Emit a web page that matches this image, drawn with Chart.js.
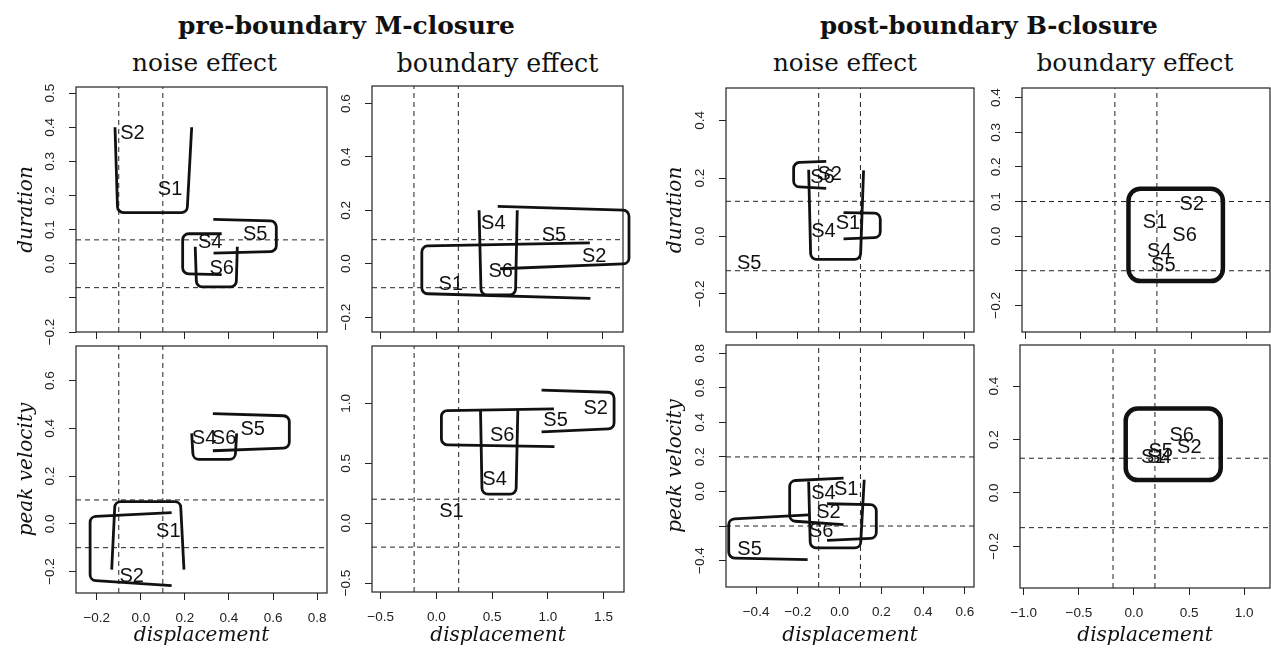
<!DOCTYPE html>
<html>
<head>
<meta charset="utf-8">
<title>closure effects</title>
<script src="https://cdn.jsdelivr.net/npm/chart.js@4.4.1/dist/chart.umd.min.js"></script>
<style>
  html, body { margin: 0; padding: 0; background: #fff; }
  #page { position: relative; width: 1271px; height: 653px; overflow: hidden; }
  #page canvas { position: absolute; }
  .ttl { position: absolute; white-space: nowrap; line-height: 1; color: #111;
         font-family: 'DejaVu Serif', serif; }
  .ttl.b { font-weight: bold; }
</style>
</head>
<body>
<div id="page">
  <div class="ttl b" id="ttlPre">pre-boundary M-closure</div>
  <div class="ttl b" id="ttlPost">post-boundary B-closure</div>
  <div class="ttl" id="subPreNoise">noise effect</div>
  <div class="ttl" id="subPreBnd">boundary effect</div>
  <div class="ttl" id="subPostNoise">noise effect</div>
  <div class="ttl" id="subPostBnd">boundary effect</div>
  <canvas id="c3"></canvas><canvas id="c4"></canvas>
  <canvas id="c7"></canvas><canvas id="c8"></canvas>
  <canvas id="c1"></canvas><canvas id="c2"></canvas>
  <canvas id="c5"></canvas><canvas id="c6"></canvas>
</div>
<script>
// ---------------- x axes (shared by the two rows) ----------------
const preNoiseXTicks  = [-0.2, 0, 0.2, 0.4, 0.6, 0.8];
const preNoiseXLabels = ['−0.2', '0.0', '0.2', '0.4', '0.6', '0.8'];
const preBndXTicks    = [-0.5, 0, 0.5, 1.0, 1.5];
const preBndXLabels   = ['−0.5', '0.0', '0.5', '1.0', '1.5'];
const postNoiseXTicks  = [-0.4, -0.2, 0, 0.2, 0.4, 0.6];
const postNoiseXLabels = ['−0.4', '−0.2', '0.0', '0.2', '0.4', '0.6'];
const postBndXTicks    = [-1.0, -0.5, 0, 0.5, 1.0];
const postBndXLabels   = ['−1.0', '−0.5', '0.0', '0.5', '1.0'];

// ---------------- pre-boundary M-closure / noise / duration ----------------
const p1XRange = [-0.294, 0.845];
const p1YRange = [-0.2, 0.518];
const p1YTicks = [-0.2, -0.1, 0, 0.1, 0.2, 0.3, 0.4, 0.5];
const p1YLabels = ['−0.2', '', '0.0', '0.1', '0.2', '0.3', '0.4', '0.5'];
const p1VRef = [-0.1, 0.1];
const p1HRef = [-0.07, 0.07];
const p1Names = ['S1', 'S2', 'S4', 'S5', 'S6'];
const p1NameX = [0.133, -0.038, 0.315, 0.519, 0.367];
const p1NameY = [0.217, 0.383, 0.061, 0.087, -0.013];
const p1Brackets = [
  [[-0.117, 0.40], [-0.105, 0.15], [0.21, 0.15], [0.231, 0.40]],
  [[0.367, 0.088], [0.19, 0.088], [0.19, -0.029], [0.367, -0.032]],
  [[0.247, 0.05], [0.253, -0.068], [0.433, -0.068], [0.438, 0.05]],
  [[0.329, 0.13], [0.615, 0.125], [0.615, 0.036], [0.33, 0.031]]
];

// ---------------- pre-boundary M-closure / boundary / duration ----------------
const p2XRange = [-0.578, 1.684];
const p2YRange = [-0.256, 0.666];
const p2YTicks = [-0.2, 0, 0.2, 0.4, 0.6];
const p2YLabels = ['−0.2', '0.0', '0.2', '0.4', '0.6'];
const p2VRef = [-0.2, 0.2];
const p2HRef = [-0.09, 0.09];
const p2Names = ['S1', 'S4', 'S6', 'S5', 'S2'];
const p2NameX = [0.132, 0.515, 0.582, 1.061, 1.424];
const p2NameY = [-0.078, 0.15, -0.028, 0.106, 0.027];
const p2Brackets = [
  [[1.385, 0.078], [-0.129, 0.066], [-0.129, -0.112], [1.39, -0.13]],
  [[0.387, 0.2], [0.405, -0.117], [0.715, -0.117], [0.731, 0.2]],
  [[0.555, 0.215], [1.738, 0.2], [1.738, 0.0], [0.576, -0.019]]
];

// ---------------- pre-boundary M-closure / noise / peak velocity ----------------
const p3XRange = [-0.294, 0.845];
const p3YRange = [-0.29, 0.745];
const p3YTicks = [-0.2, 0, 0.2, 0.4, 0.6];
const p3YLabels = ['−0.2', '0.0', '0.2', '0.4', '0.6'];
const p3VRef = [-0.1, 0.1];
const p3HRef = [-0.1, 0.1];
const p3Names = ['S5', 'S4', 'S6', 'S1', 'S2'];
const p3NameX = [0.508, 0.287, 0.378, 0.125, -0.041];
const p3NameY = [0.395, 0.358, 0.358, -0.032, -0.22];
const p3Brackets = [
  [[0.327, 0.462], [0.674, 0.452], [0.674, 0.318], [0.327, 0.306]],
  [[0.231, 0.379], [0.238, 0.27], [0.428, 0.27], [0.435, 0.379]],
  [[-0.132, -0.192], [-0.117, 0.093], [0.18, 0.093], [0.196, -0.192]],
  [[0.14, 0.047], [-0.23, 0.03], [-0.23, -0.237], [0.14, -0.259]]
];

// ---------------- pre-boundary M-closure / boundary / peak velocity ----------------
const p4XRange = [-0.578, 1.684];
const p4YRange = [-0.575, 1.48];
const p4YTicks = [-0.5, 0, 0.5, 1.0];
const p4YLabels = ['−0.5', '0.0', '0.5', '1.0'];
const p4VRef = [-0.2, 0.2];
const p4HRef = [-0.2, 0.2];
const p4Names = ['S2', 'S5', 'S6', 'S4', 'S1'];
const p4NameX = [1.43, 1.07, 0.59, 0.522, 0.135];
const p4NameY = [0.958, 0.86, 0.736, 0.367, 0.097];
const p4Brackets = [
  [[0.944, 1.111], [1.595, 1.092], [1.595, 0.79], [0.944, 0.763]],
  [[1.055, 0.955], [0.045, 0.94], [0.045, 0.655], [1.06, 0.64]],
  [[0.396, 0.944], [0.41, 0.242], [0.715, 0.242], [0.731, 0.944]]
];

// ---------------- post-boundary B-closure / noise / duration ----------------
const p5XRange = [-0.544, 0.644];
const p5YRange = [-0.332, 0.512];
const p5YTicks = [-0.2, 0, 0.2, 0.4];
const p5YLabels = ['−0.2', '0.0', '0.2', '0.4'];
const p5VRef = [-0.1, 0.1];
const p5HRef = [-0.12, 0.12];
const p5Names = ['S6', 'S2', 'S4', 'S1', 'S5'];
const p5NameX = [-0.082, -0.047, -0.077, 0.04, -0.433];
const p5NameY = [0.203, 0.214, 0.015, 0.042, -0.095];
const p5Brackets = [
  [[-0.064, 0.258], [-0.22, 0.254], [-0.22, 0.171], [-0.064, 0.165]],
  [[-0.148, 0.229], [-0.138, -0.081], [0.1, -0.081], [0.115, 0.227]],
  [[0.019, 0.081], [0.195, 0.079], [0.195, -0.005], [0.019, -0.01]]
];

// ---------------- post-boundary B-closure / boundary / duration ----------------
const p6XRange = [-1.03, 1.213];
const p6YRange = [-0.277, 0.428];
const p6YTicks = [-0.2, -0.1, 0, 0.1, 0.2, 0.3, 0.4];
const p6YLabels = ['−0.2', '', '0.0', '0.1', '0.2', '0.3', '0.4'];
const p6VRef = [-0.19, 0.19];
const p6HRef = [-0.1, 0.1];
const p6Names = ['S2', 'S1', 'S6', 'S4', 'S5'];
const p6NameX = [0.506, 0.173, 0.44, 0.212, 0.248];
const p6NameY = [0.09, 0.039, 0.003, -0.045, -0.084];
const p6Frame = [[-0.067, 0.137], [0.787, 0.137], [0.787, -0.13], [-0.067, -0.13]];

// ---------------- post-boundary B-closure / noise / peak velocity ----------------
const p7XRange = [-0.544, 0.644];
const p7YRange = [-0.553, 0.848];
const p7YTicks = [-0.4, -0.2, 0, 0.2, 0.4, 0.6, 0.8];
const p7YLabels = ['−0.4', '', '0.0', '0.2', '0.4', '0.6', '0.8'];
const p7VRef = [-0.1, 0.1];
const p7HRef = [-0.2, 0.2];
const p7Names = ['S4', 'S1', 'S2', 'S6', 'S5'];
const p7NameX = [-0.077, 0.032, -0.053, -0.088, -0.431];
const p7NameY = [-0.009, 0.01, -0.121, -0.231, -0.333];
const p7Brackets = [
  [[0.019, 0.077], [-0.239, 0.062], [-0.239, -0.17], [0.019, -0.192]],
  [[-0.148, 0.058], [-0.14, -0.327], [0.1, -0.327], [0.118, 0.068]],
  [[-0.06, -0.071], [0.176, -0.077], [0.176, -0.27], [-0.06, -0.283]],
  [[-0.148, -0.135], [-0.531, -0.16], [-0.531, -0.385], [-0.153, -0.395]]
];

// ---------------- post-boundary B-closure / boundary / peak velocity ----------------
const p8XRange = [-1.034, 1.234];
const p8YRange = [-0.356, 0.554];
const p8YTicks = [-0.2, 0, 0.2, 0.4];
const p8YLabels = ['−0.2', '0.0', '0.2', '0.4'];
const p8VRef = [-0.19, 0.19];
const p8HRef = [-0.13, 0.13];
const p8Names = ['S6', 'S2', 'S5', 'S4', 'S1'];
const p8NameX = [0.433, 0.502, 0.242, 0.229, 0.175];
const p8NameY = [0.216, 0.17, 0.154, 0.131, 0.131];
const p8Frame = [[-0.075, 0.316], [0.787, 0.316], [0.787, 0.048], [-0.075, 0.048]];

// ---------------- panel layout ----------------
// x,y,w,h : canvas rect / yW : left axis width / xH : bottom axis height
const panels = [
  { id: 'c1', x: 0,   y: 80,  w: 340, h: 266, yW: 76, xH: 14, padTop: 7, padRight: 13,
    xRange: p1XRange, yRange: p1YRange, xTicks: preNoiseXTicks, xLabels: null,
    yTicks: p1YTicks, yLabels: p1YLabels, vRef: p1VRef, hRef: p1HRef,
    names: p1Names, nameX: p1NameX, nameY: p1NameY, shapes: p1Brackets, closed: false,
    yTitle: 'duration', yTitlePad: 15 },
  { id: 'c2', x: 330, y: 80,  w: 330, h: 266, yW: 42, xH: 14, padTop: 6, padRight: 37,
    xRange: p2XRange, yRange: p2YRange, xTicks: preBndXTicks, xLabels: null,
    yTicks: p2YTicks, yLabels: p2YLabels, vRef: p2VRef, hRef: p2HRef,
    names: p2Names, nameX: p2NameX, nameY: p2NameY, shapes: p2Brackets, closed: false },
  { id: 'c3', x: 0,   y: 340, w: 340, h: 313, yW: 76, xH: 60, padTop: 6, padRight: 13,
    xRange: p3XRange, yRange: p3YRange, xTicks: preNoiseXTicks, xLabels: preNoiseXLabels,
    yTicks: p3YTicks, yLabels: p3YLabels, vRef: p3VRef, hRef: p3HRef,
    names: p3Names, nameX: p3NameX, nameY: p3NameY, shapes: p3Brackets, closed: false,
    yTitle: 'peak velocity', yTitlePad: 15 },
  { id: 'c4', x: 330, y: 340, w: 330, h: 313, yW: 42, xH: 61, padTop: 6, padRight: 36,
    xRange: p4XRange, yRange: p4YRange, xTicks: preBndXTicks, xLabels: preBndXLabels,
    yTicks: p4YTicks, yLabels: p4YLabels, vRef: p4VRef, hRef: p4HRef,
    names: p4Names, nameX: p4NameX, nameY: p4NameY, shapes: p4Brackets, closed: false },
  { id: 'c5', x: 660, y: 80,  w: 330, h: 266, yW: 66, xH: 14, padTop: 8, padRight: 16,
    xRange: p5XRange, yRange: p5YRange, xTicks: postNoiseXTicks, xLabels: null,
    yTicks: p5YTicks, yLabels: p5YLabels, vRef: p5VRef, hRef: p5HRef,
    names: p5Names, nameX: p5NameX, nameY: p5NameY, shapes: p5Brackets, closed: false,
    yTitle: 'duration', yTitlePad: 4 },
  { id: 'c6', x: 975, y: 80,  w: 296, h: 266, yW: 47, xH: 14, padTop: 8, padRight: 1,
    xRange: p6XRange, yRange: p6YRange, xTicks: postBndXTicks, xLabels: null,
    yTicks: p6YTicks, yLabels: p6YLabels, vRef: p6VRef, hRef: p6HRef,
    names: p6Names, nameX: p6NameX, nameY: p6NameY, shapes: [p6Frame], closed: true },
  { id: 'c7', x: 660, y: 340, w: 330, h: 313, yW: 66, xH: 66, padTop: 5, padRight: 16,
    xRange: p7XRange, yRange: p7YRange, xTicks: postNoiseXTicks, xLabels: postNoiseXLabels,
    yTicks: p7YTicks, yLabels: p7YLabels, vRef: p7VRef, hRef: p7HRef,
    names: p7Names, nameX: p7NameX, nameY: p7NameY, shapes: p7Brackets, closed: false,
    yTitle: 'peak velocity', yTitlePad: 4 },
  { id: 'c8', x: 975, y: 340, w: 296, h: 313, yW: 45, xH: 65, padTop: 5, padRight: 1,
    xRange: p8XRange, yRange: p8YRange, xTicks: postBndXTicks, xLabels: postBndXLabels,
    yTicks: p8YTicks, yLabels: p8YLabels, vRef: p8VRef, hRef: p8HRef,
    names: p8Names, nameX: p8NameX, nameY: p8NameY, shapes: [p8Frame], closed: true }
];

const INK = '#111';
const AXIS = '#222';
Chart.defaults.font.family = 'Liberation Sans';

// bracket / frame outline with rounded corners
function roundedPath(ctx, pts, r, closed) {
  const n = pts.length;
  const rad = (a, b, c) => Math.min(r,
    Math.hypot(b[0] - a[0], b[1] - a[1]) / 2, Math.hypot(c[0] - b[0], c[1] - b[1]) / 2);
  ctx.beginPath();
  if (closed) {
    ctx.moveTo((pts[0][0] + pts[n - 1][0]) / 2, (pts[0][1] + pts[n - 1][1]) / 2);
    for (let i = 0; i < n; i++) {
      const a = pts[(i - 1 + n) % n], b = pts[i], c = pts[(i + 1) % n];
      ctx.arcTo(b[0], b[1], c[0], c[1], rad(a, b, c));
    }
    ctx.closePath();
  } else {
    ctx.moveTo(pts[0][0], pts[0][1]);
    for (let i = 1; i < n - 1; i++) {
      ctx.arcTo(pts[i][0], pts[i][1], pts[i + 1][0], pts[i + 1][1], rad(pts[i - 1], pts[i], pts[i + 1]));
    }
    ctx.lineTo(pts[n - 1][0], pts[n - 1][1]);
  }
}

function panelPlugin(p) {
  return {
    id: 'rPanel',
    beforeDatasetsDraw(chart) {
      const { ctx, chartArea: a } = chart;
      ctx.save();
      ctx.strokeStyle = AXIS;
      ctx.lineWidth = 1.2;
      ctx.strokeRect(a.left, a.top, a.right - a.left, a.bottom - a.top);
      ctx.restore();
    },
    afterDatasetsDraw(chart) {
      const ctx = chart.ctx;
      ctx.save();
      chart.data.datasets.forEach((ds, i) => {
        const pts = chart.getDatasetMeta(i).data.map(e => [e.x, e.y]);
        if (ds.bracket) {
          ctx.strokeStyle = INK;
          ctx.lineWidth = ds.closed ? 4.5 : 2.8;
          ctx.lineJoin = 'round';
          roundedPath(ctx, pts, ds.closed ? 12 : 6, ds.closed);
          ctx.stroke();
        } else if (ds.names) {
          ctx.fillStyle = INK;
          ctx.font = '20px "Liberation Sans"';
          ctx.textAlign = 'center';
          ctx.textBaseline = 'middle';
          pts.forEach((q, k) => ctx.fillText(ds.names[k], q[0], q[1]));
        }
      });
      ctx.restore();
    },
    afterDraw(chart) {
      // y tick labels turned 90 degrees, like R's default axis
      const ys = chart.scales.y, left = chart.chartArea.left, ctx = chart.ctx;
      ctx.save();
      ctx.fillStyle = AXIS;
      ctx.font = '13.5px "Liberation Sans"';
      ctx.textAlign = 'center';
      ctx.textBaseline = 'middle';
      p.yTicks.forEach((v, k) => {
        const t = p.yLabels[k];
        if (!t) return;
        ctx.save();
        ctx.translate(left - 26, ys.getPixelForValue(v));
        ctx.rotate(-Math.PI / 2);
        ctx.fillText(t, 0, 0);
        ctx.restore();
      });
      ctx.restore();
    }
  };
}

function refLine(data) {
  return { type: 'line', data: data, showLine: true, borderColor: AXIS, borderWidth: 1,
           borderDash: [5, 4], pointRadius: 0, fill: false };
}

function drawPanel(p) {
  const cv = document.getElementById(p.id);
  cv.width = p.w; cv.height = p.h;
  cv.style.left = p.x + 'px'; cv.style.top = p.y + 'px';

  const datasets = [];
  p.vRef.forEach(v => datasets.push(refLine([{ x: v, y: p.yRange[0] }, { x: v, y: p.yRange[1] }])));
  p.hRef.forEach(v => datasets.push(refLine([{ x: p.xRange[0], y: v }, { x: p.xRange[1], y: v }])));
  p.shapes.forEach(s => datasets.push({
    type: 'line', data: s.map(([x, y]) => ({ x, y })), showLine: false, pointRadius: 0,
    bracket: true, closed: p.closed
  }));
  datasets.push({
    type: 'scatter', data: p.names.map((n, i) => ({ x: p.nameX[i], y: p.nameY[i] })),
    pointRadius: 0, names: p.names
  });

  const bottom = !!p.xLabels;
  new Chart(cv, {
    type: 'scatter',
    data: { datasets: datasets },
    options: {
      responsive: false,
      animation: false,
      events: [],
      layout: { padding: { top: p.padTop, right: p.padRight, left: 0, bottom: 0 } },
      plugins: { legend: { display: false }, tooltip: { enabled: false } },
      scales: {
        x: {
          type: 'linear', min: p.xRange[0], max: p.xRange[1],
          afterBuildTicks: s => { s.ticks = p.xTicks.map(v => ({ value: v })); },
          afterFit: s => { s.height = p.xH; s.paddingLeft = 0; s.paddingRight = 0; },
          grid: { drawOnChartArea: false, drawTicks: true, tickLength: 7, color: AXIS },
          border: { display: false },
          ticks: {
            display: bottom, autoSkip: false, maxRotation: 0, minRotation: 0, padding: 10,
            color: AXIS, font: { size: 13.5 },
            callback: (v, i) => bottom ? p.xLabels[i] : ''
          },
          title: {
            display: bottom, text: 'displacement', color: INK,
            font: { family: 'DejaVu Serif', style: 'italic', size: 20 },
            padding: { top: 0, bottom: 5 }
          }
        },
        y: {
          type: 'linear', min: p.yRange[0], max: p.yRange[1],
          afterBuildTicks: s => { s.ticks = p.yTicks.map(v => ({ value: v })); },
          afterFit: s => { s.width = p.yW; s.paddingTop = 0; s.paddingBottom = 0; },
          grid: { drawOnChartArea: false, drawTicks: true, tickLength: 7, color: AXIS },
          border: { display: false },
          ticks: { display: false },
          title: {
            display: !!p.yTitle, text: p.yTitle || '', color: INK,
            font: { family: 'DejaVu Serif', style: 'italic', size: 20 },
            padding: { top: p.yTitlePad || 0, bottom: 0 }
          }
        }
      }
    },
    plugins: [panelPlugin(p)]
  });
}

// headings: fitted to the width they have in the figure, placed on their baseline
function placeText(id, cx, base, w) {
  const el = document.getElementById(id);
  el.style.fontSize = '20px';
  const fs = 20 * w / el.getBoundingClientRect().width;
  el.style.fontSize = fs + 'px';
  el.style.left = (cx - w / 2) + 'px';
  el.style.top = (base - 0.846 * fs) + 'px';
}

placeText('ttlPre', 346.5, 35, 337);
placeText('ttlPost', 989, 35, 338);
placeText('subPreNoise', 204.5, 72, 145);
placeText('subPreBnd', 497.5, 72, 202);
placeText('subPostNoise', 845, 72, 144);
placeText('subPostBnd', 1135, 72, 197);

panels.forEach(drawPanel);
</script>
</body>
</html>
